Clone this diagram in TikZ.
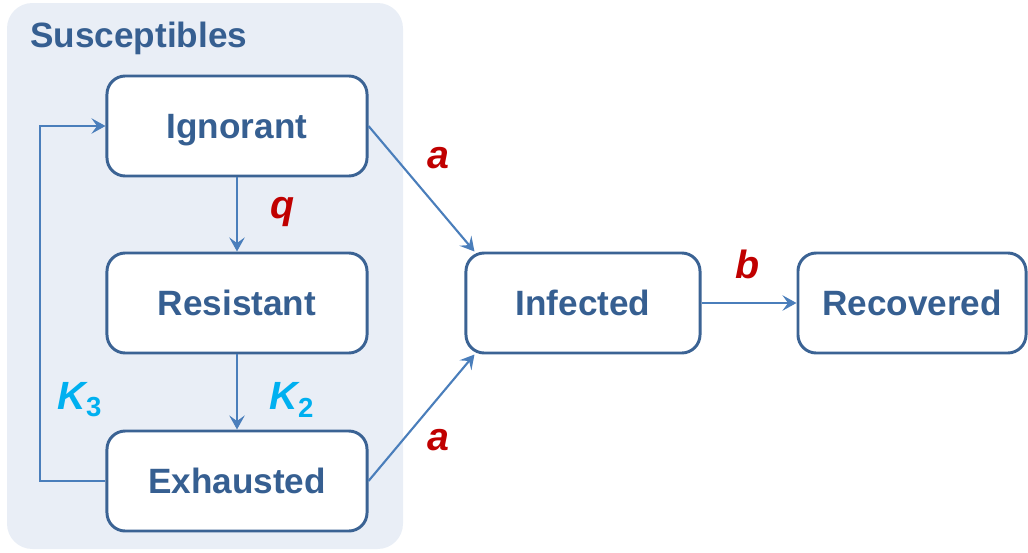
\documentclass[tikz,border=0pt]{standalone}
\usepackage{fontspec}
\setmainfont{Liberation Sans}
\usepackage{tikz}
\usetikzlibrary{shapes.misc,calc,positioning,arrows.meta}
\definecolor{panelbg}{HTML}{E9EEF6}
\definecolor{boxline}{HTML}{3B6394}
\definecolor{boxtext}{HTML}{365F91}
\definecolor{arrowcol}{HTML}{4A7EBB}
\definecolor{ratered}{HTML}{C00000}
\definecolor{ratecyan}{HTML}{00B0F0}

\begin{document}
\begin{tikzpicture}[x=0.025cm,y=-0.025cm,
  compartment/.style={rectangle,rounded corners=13pt,draw=boxline,line width=2.1pt,fill=white,
    minimum height=2.5cm,text height=17.9pt,text depth=0pt,text=boxtext,font=\fontsize{25}{30}\selectfont\bfseries},
  flow/.style={draw=arrowcol,line width=1.5pt,-{Stealth[length=10pt,width=11pt,inset=4pt]}},
  ratelbl/.style={font=\fontsize{28}{30}\selectfont\bfseries\itshape}]
\useasboundingbox (0,0) rectangle (1028,553);
% susceptible class
\fill [panelbg,rounded corners=18pt] (7,3) rectangle (403,549);
\node (sus) [anchor=west,text=boxtext,font=\fontsize{25}{30}\selectfont\bfseries,inner sep=0pt] at (30,38) {Susceptibles};

\node (ign) [compartment,minimum width=6.5cm] at (237,126) {Ignorant};
\node (res) [compartment,minimum width=6.5cm] at (237,303) {Resistant};
\node (exh) [compartment,minimum width=6.5cm] at (237,481) {Exhausted};
\node (inf) [compartment,minimum width=5.85cm] at (583,303) {Infected};
\node (rec) [compartment,minimum width=5.7cm] at (912,303) {Recovered};

\coordinate (loopb) at (40,481);
\coordinate (loopt) at (40,126);

\draw [flow] (ign) -- (res);
\draw [flow] (res) -- (exh);
\draw [flow,rounded corners=0pt] (exh.west) -- (loopb) -- (loopt) -- (ign.west);
\draw [flow] (ign.east) -- ($(inf.north west)+(10,0)$);
\draw [flow] (exh.east) -- ($(inf.south west)+(10,0)$);
\draw [flow] (inf) -- (rec);

\node (q) [ratelbl,text=ratered] at (283,212) {q};
\node (k2) [ratelbl,text=ratecyan] at (292,400) {K\textsubscript{\upshape 2}};
\node (k3) [ratelbl,text=ratecyan] at (80,400) {K\textsubscript{\upshape 3}};
\node (a1) [ratelbl,text=ratered] at (438,158) {a};
\node (a2) [ratelbl,text=ratered] at (438,440) {a};
\node (b) [ratelbl,text=ratered] at (748,264) {b};
\end{tikzpicture}
\end{document}
